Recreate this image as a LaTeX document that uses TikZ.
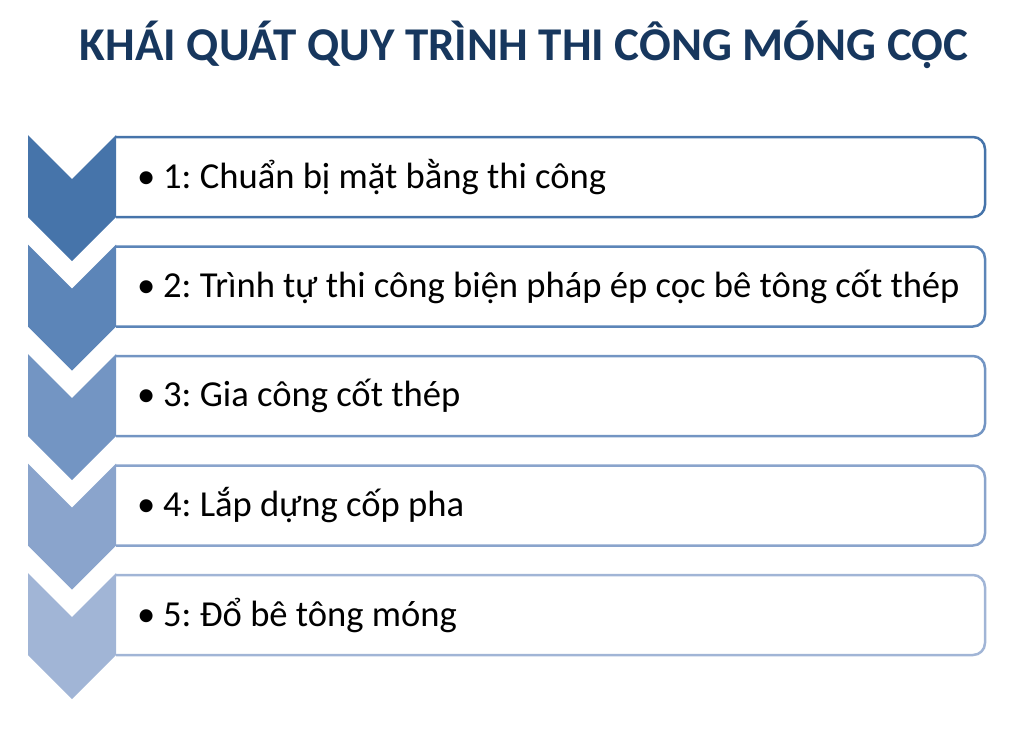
\documentclass[tikz,border=0pt]{standalone}
\usepackage{fontspec}
\setmainfont{Carlito}
\usepackage{tikz}
\usetikzlibrary{positioning, calc}
\definecolor{titleblue}{RGB}{23,55,94}
\definecolor{stepA}{RGB}{70,116,170}
\definecolor{stepB}{RGB}{92,133,184}
\definecolor{stepC}{RGB}{115,149,195}
\definecolor{stepD}{RGB}{138,164,204}
\definecolor{stepE}{RGB}{161,181,214}
\frenchspacing

\begin{document}
\begin{tikzpicture}[x=1pt, y=-1pt,
  heading/.style={font=\fontsize{47}{52}\selectfont\bfseries, text=titleblue, inner sep=0pt},
  item/.style={anchor=west, font=\fontsize{36.6}{40}\selectfont, inner sep=0pt}]
\useasboundingbox (0,0) rectangle (1009,731);

\node (title) at (524,45) [heading] {KHÁI QUÁT QUY TRÌNH THI CÔNG MÓNG CỌC};

% chevrons and boxes
\foreach \i/\c in {0/stepA, 1/stepB, 2/stepC, 3/stepD, 4/stepE} {
  \pgfmathsetmacro{\t}{135+109.5*\i}
  \fill[\c] (28,\t) -- (72,\t+44) -- (116,\t) -- (116,\t+82)
    -- (72,\t+126) -- (28,\t+82) -- cycle;
  \draw[\c, line width=2.5pt] (116,\t+2) [rounded corners=12pt] -- (985,\t+2)
    -- (985,\t+82) [sharp corners] -- (116,\t+82);
}

\node (step1) at (137,177) [item] {\makebox[26pt][l]{•}1: Chuẩn bị mặt bằng thi công};
\node (step2) [item, below=109.5pt of step1.west, anchor=west] {\makebox[26pt][l]{•}2: Trình tự thi công biện pháp ép cọc bê tông cốt thép};
\node (step3) [item, below=109.5pt of step2.west, anchor=west] {\makebox[26pt][l]{•}3: Gia công cốt thép};
\node (step4) [item, below=109.5pt of step3.west, anchor=west] {\makebox[26pt][l]{•}4: Lắp dựng cốp pha};
\node (step5) [item, below=109.5pt of step4.west, anchor=west] {\makebox[26pt][l]{•}5: Đổ bê tông móng};
\end{tikzpicture}
\end{document}
